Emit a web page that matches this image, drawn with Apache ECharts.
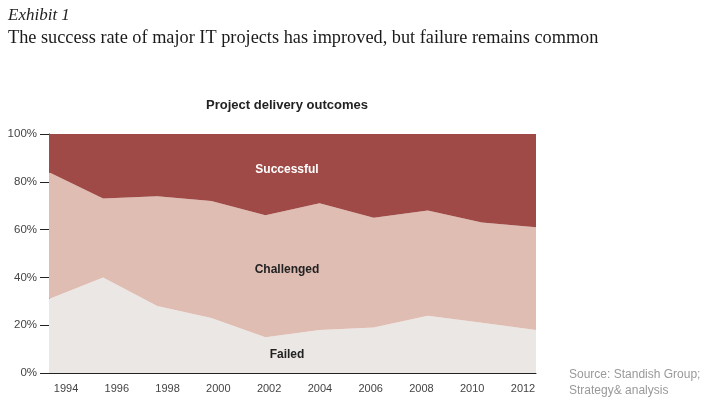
<!DOCTYPE html>
<html><head><meta charset="utf-8">
<script src="https://cdn.jsdelivr.net/npm/echarts@6/dist/echarts.min.js"></script>
<style>html,body{margin:0;padding:0;background:#fff;}#c{width:714px;height:414px;}</style>
</head><body><div id="c"></div>
<script>
var years = ['1994','1996','1998','2000','2002','2004','2006','2008','2010','2012'];
var yearTicks = [1994,1996,1998,2000,2002,2004,2006,2008,2010,2012];
var failed = [31,40,28,23,15,18,19,24,21,18];
var challenged = [53,33,46,49,51,53,46,44,42,43];
var successful = [16,27,26,28,34,29,35,32,37,39];

var chart = echarts.init(document.getElementById('c'));
var sans = 'Liberation Sans';
chart.setOption({
  animation: false,
  grid: {left: 49, top: 134, width: 487, bottom: 41},
  xAxis: [
    {type: 'category', data: years, boundaryGap: false,
     axisLine: {show: true, lineStyle: {color: '#222', width: 1}},
     axisTick: {show: false}, axisLabel: {show: false}, splitLine: {show: false}, z: 10},
    {type: 'value', position: 'bottom', min: 1993.33, max: 2012.512,
     axisLine: {show: false}, axisTick: {show: false}, splitLine: {show: false},
     axisLabel: {customValues: yearTicks, fontFamily: sans, fontSize: 11, color: '#444', margin: 10,
       formatter: function(v){ return String(Math.round(v)); }}}
  ],
  yAxis: {type: 'value', min: 0, max: 100, interval: 20,
    axisLine: {show: true, lineStyle: {color: '#222', width: 1}},
    axisTick: {show: true, length: 9, lineStyle: {color: '#222'}},
    splitLine: {show: false},
    axisLabel: {formatter: '{value}%', fontFamily: sans, fontSize: 11.5, color: '#444', margin: 12}},
  series: [
    {name: 'Failed', type: 'line', stack: 'all', data: failed, symbol: 'none',
     lineStyle: {width: 0}, areaStyle: {color: '#ebe7e4', opacity: 1}},
    {name: 'Challenged', type: 'line', stack: 'all', data: challenged, symbol: 'none',
     lineStyle: {width: 0}, areaStyle: {color: '#dfbdb3', opacity: 1}},
    {name: 'Successful', type: 'line', stack: 'all', data: successful, symbol: 'none',
     lineStyle: {width: 0}, areaStyle: {color: '#9f4a46', opacity: 1}}
  ],
  graphic: [
    {type: 'text', left: 8, top: 7, style: {text: 'Exhibit 1', font: 'italic 17px "Liberation Serif"', fill: '#222'}},
    {type: 'text', left: 8, top: 29, style: {text: 'The success rate of major IT projects has improved, but failure remains common', font: '18.3px "Liberation Serif"', fill: '#1a1a1a'}},
    {type: 'text', x: 287, y: 105, style: {text: 'Project delivery outcomes', font: 'bold 13px "Liberation Sans"', fill: '#222', align: 'center', verticalAlign: 'middle'}},
    {type: 'text', x: 287, y: 170, z: 100, style: {text: 'Successful', font: 'bold 12px "Liberation Sans"', fill: '#fff', align: 'center', verticalAlign: 'middle'}},
    {type: 'text', x: 287, y: 270, z: 100, style: {text: 'Challenged', font: 'bold 12px "Liberation Sans"', fill: '#222', align: 'center', verticalAlign: 'middle'}},
    {type: 'text', x: 287, y: 355, z: 100, style: {text: 'Failed', font: 'bold 12px "Liberation Sans"', fill: '#222', align: 'center', verticalAlign: 'middle'}},
    {type: 'text', left: 569, top: 367, style: {text: 'Source: Standish Group;\nStrategy& analysis', font: '12px "Liberation Sans"', lineHeight: 16, fill: '#999'}}
  ]
});
</script></body></html>
